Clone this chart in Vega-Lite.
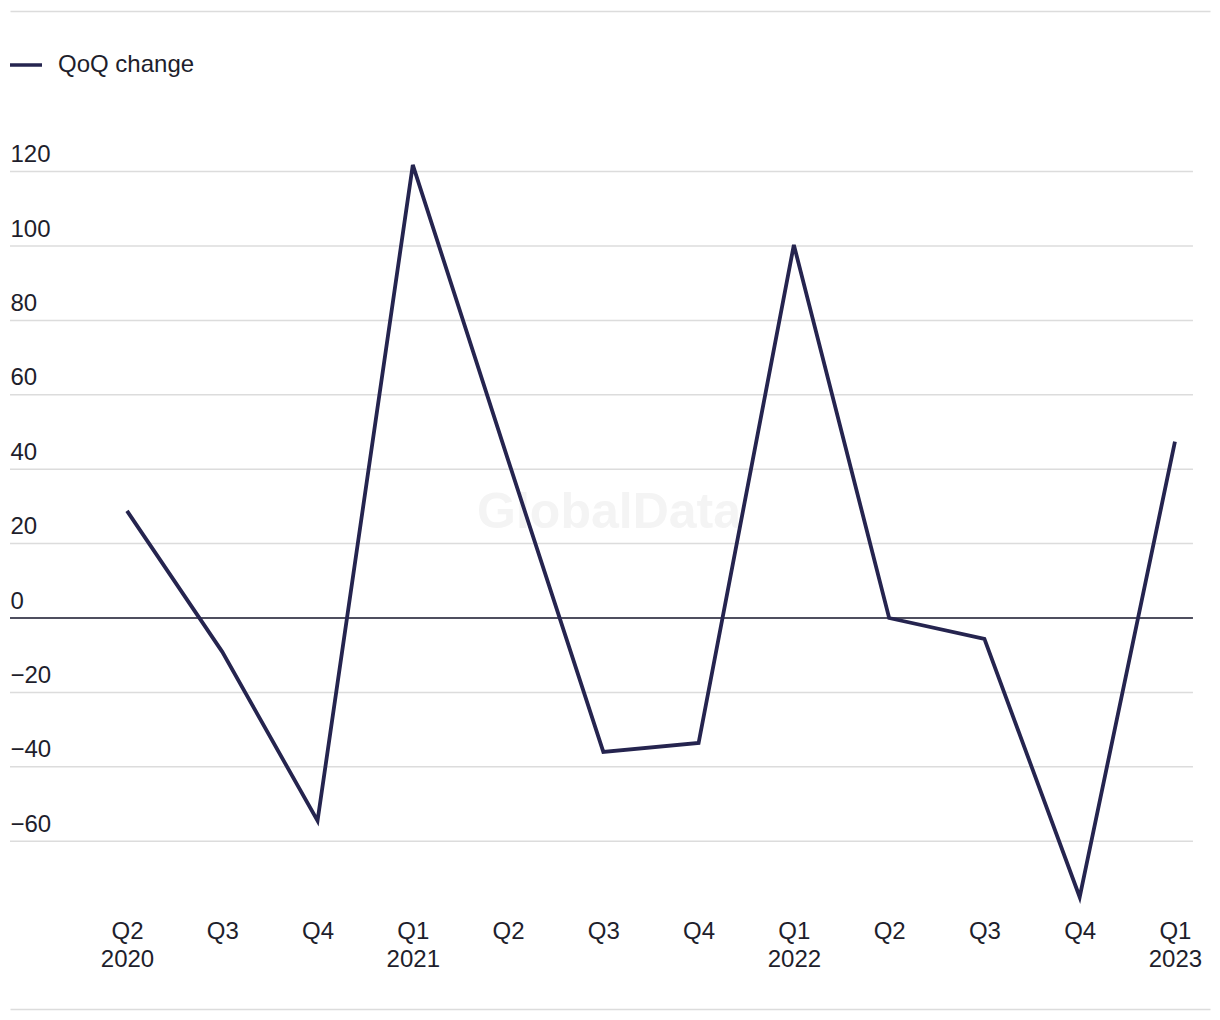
{
  "$schema": "https://vega.github.io/schema/vega-lite/v6.json",
  "width": 1200,
  "height": 998,
  "autosize": {"type": "none"},
  "padding": {"left": 10, "top": 11, "right": 10, "bottom": 11},
  "background": "#ffffff",
  "config": {
    "view": {"stroke": null},
    "font": "Liberation Sans",
    "text": {"font": "Liberation Sans"}
  },
  "datasets": {
    "qoq": [
      {"i": 0, "quarter": "Q2 2020", "change": 28.8, "series": "QoQ change"},
      {"i": 1, "quarter": "Q3 2020", "change": -9.1, "series": "QoQ change"},
      {"i": 2, "quarter": "Q4 2020", "change": -54.5, "series": "QoQ change"},
      {"i": 3, "quarter": "Q1 2021", "change": 121.8, "series": "QoQ change"},
      {"i": 4, "quarter": "Q2 2021", "change": 42.5, "series": "QoQ change"},
      {"i": 5, "quarter": "Q3 2021", "change": -36.0, "series": "QoQ change"},
      {"i": 6, "quarter": "Q4 2021", "change": -33.6, "series": "QoQ change"},
      {"i": 7, "quarter": "Q1 2022", "change": 100.3, "series": "QoQ change"},
      {"i": 8, "quarter": "Q2 2022", "change": 0, "series": "QoQ change"},
      {"i": 9, "quarter": "Q3 2022", "change": -5.6, "series": "QoQ change"},
      {"i": 10, "quarter": "Q4 2022", "change": -75.0, "series": "QoQ change"},
      {"i": 11, "quarter": "Q1 2023", "change": 47.4, "series": "QoQ change"}
    ],
    "grid": [
      {"v": -60}, {"v": -40}, {"v": -20}, {"v": 20}, {"v": 40},
      {"v": 60}, {"v": 80}, {"v": 100}, {"v": 120}
    ],
    "zero": [{"v": 0}],
    "watermark": [{"text": "GlobalData"}]
  },
  "layer": [
    {
      "data": {"name": "watermark"},
      "mark": {"type": "text", "fontSize": 50, "fontWeight": "bold", "color": "#f4f4f4", "align": "center", "baseline": "alphabetic"},
      "encoding": {
        "text": {"field": "text"},
        "x": {"datum": 5.06, "type": "quantitative", "scale": {"domain": [-1.2281, 11.368], "nice": false, "zero": false}, "axis": null},
        "y": {"datum": 24.2, "type": "quantitative", "scale": {"domain": [-105.1, 163.17], "nice": false, "zero": false},
          "axis": {"title": null, "values": [-60, -40, -20, 0, 20, 40, 60, 80, 100, 120], "labelFontSize": 24, "labelColor": "#1e1e2c", "labelAlign": "left", "labelBaseline": "alphabetic", "labelPadding": 0, "labelOffset": -10, "ticks": false, "domain": false, "grid": false}}
      }
    },
    {
      "data": {"name": "grid"},
      "mark": {"type": "rule", "color": "#dcdcdc", "strokeWidth": 1.5},
      "encoding": {
        "y": {"field": "v", "type": "quantitative", "scale": {"domain": [-105.1, 163.17], "nice": false, "zero": false},
          "axis": {"title": null, "values": [-60, -40, -20, 0, 20, 40, 60, 80, 100, 120], "labelFontSize": 24, "labelColor": "#1e1e2c", "labelAlign": "left", "labelBaseline": "alphabetic", "labelPadding": 0, "labelOffset": -10, "ticks": false, "domain": false, "grid": false}},
        "x": {
          "datum": -1.2281, "type": "quantitative",
          "scale": {"domain": [-1.2281, 11.368], "nice": false, "zero": false},
          "axis": {"orient": "top", "title": null, "labels": false, "ticks": false, "grid": false, "domain": true, "domainColor": "#dcdcdc", "domainWidth": 1.5}
        },
        "x2": {"datum": 11.189}
      }
    },
    {
      "data": {"name": "zero"},
      "mark": {"type": "rule", "color": "#15152a", "strokeWidth": 1.5},
      "encoding": {
        "y": {"field": "v", "type": "quantitative", "scale": {"domain": [-105.1, 163.17], "nice": false, "zero": false},
          "axis": {"title": null, "values": [-60, -40, -20, 0, 20, 40, 60, 80, 100, 120], "labelFontSize": 24, "labelColor": "#1e1e2c", "labelAlign": "left", "labelBaseline": "alphabetic", "labelPadding": 0, "labelOffset": -10, "ticks": false, "domain": false, "grid": false}},
        "x": {"datum": -1.2281, "type": "quantitative", "scale": {"domain": [-1.2281, 11.368], "nice": false, "zero": false}, "axis": null},
        "x2": {"datum": 11.189}
      }
    },
    {
      "data": {"name": "qoq"},
      "mark": {"type": "line", "strokeWidth": 3.8, "strokeJoin": "miter"},
      "encoding": {
        "x": {
          "field": "i", "type": "quantitative",
          "scale": {"domain": [-1.2281, 11.368], "nice": false, "zero": false},
          "axis": {
            "orient": "bottom", "title": null, "values": [0, 1, 2, 3, 4, 5, 6, 7, 8, 9, 10, 11],
            "labelExpr": "[['Q2','2020'],'Q3','Q4',['Q1','2021'],'Q2','Q3','Q4',['Q1','2022'],'Q2','Q3','Q4',['Q1','2023']][datum.value]",
            "labelFontSize": 24, "labelColor": "#1e1e2c", "labelPadding": -71, "labelBaseline": "alphabetic",
            "labelLineHeight": 28, "labelAlign": "center", "labelFlush": false, "labelOverlap": false,
            "ticks": false, "grid": false, "domain": true, "domainColor": "#dcdcdc", "domainWidth": 1.5
          }
        },
        "y": {
          "field": "change", "type": "quantitative",
          "scale": {"domain": [-105.1, 163.17], "nice": false, "zero": false},
          "axis": {"title": null, "values": [-60, -40, -20, 0, 20, 40, 60, 80, 100, 120], "labelFontSize": 24, "labelColor": "#1e1e2c", "labelAlign": "left", "labelBaseline": "alphabetic", "labelPadding": 0, "labelOffset": -10, "ticks": false, "domain": false, "grid": false}
        },
        "color": {
          "field": "series", "type": "nominal",
          "scale": {"range": ["#25244f"]},
          "legend": {
            "orient": "none", "legendX": -2, "legendY": 36, "title": null, "padding": 0,
            "symbolType": "stroke", "symbolSize": 1024, "symbolStrokeWidth": 3.5,
            "labelFontSize": 24, "labelColor": "#1e1e2c", "labelOffset": 14
          }
        }
      }
    }
  ],
  "resolve": {"axis": {"x": "independent"}}
}
